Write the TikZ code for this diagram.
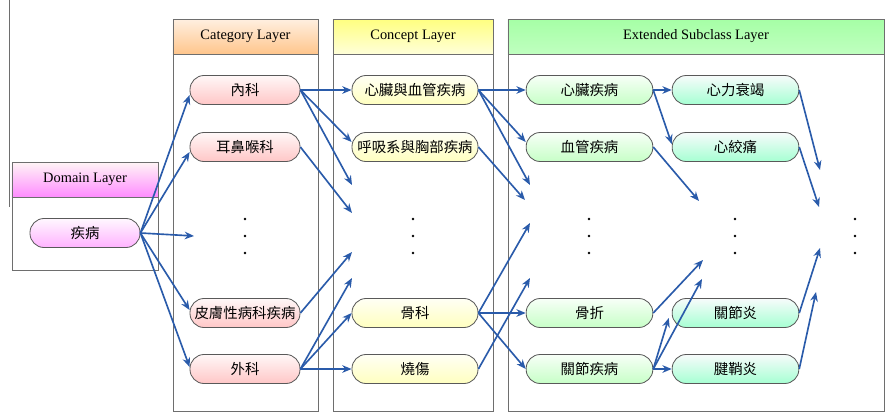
\documentclass[tikz,border=0pt]{standalone}
\usepackage{fontspec}
\setmainfont{Liberation Serif}
\newfontfamily\cjk{Noto Sans CJK TC}
\usepackage{xcolor}
\usepackage{tikz}
\usetikzlibrary{arrows.meta,calc}

\definecolor{linkblue}{HTML}{2A5BAA}
\definecolor{frame}{HTML}{6E6E6E}

\tikzset{
  box/.style={draw=frame, line width=0.8pt},
  hdr/.style={draw=frame, line width=0.8pt, minimum height=1.05cm, inner sep=0pt},
  item/.style={draw=black!65, line width=0.7pt, rounded corners=12pt,
    minimum height=0.87cm, inner xsep=1pt, inner ysep=0pt,
    font=\cjk\fontsize{12.3}{14}\selectfont},
  link/.style={draw=linkblue, line width=1.4pt, -{Stealth[length=8pt,width=6.5pt]}}
}

\begin{document}
\begin{tikzpicture}[x=0.03cm, y=-0.03cm, font=\fontsize{12.3}{14}\selectfont]
    \useasboundingbox (0,0) rectangle (885,413);
    %Values
    \def\ra{90}
    \def\rb{147}
    \def\rc{313}
    \def\rd{369}

    % Layers
    \draw[frame, line width=0.8pt] (9,0) -- (9,207);
    \draw[box] (12,162) rectangle (158,270);
    \node[hdr, top color=pink!15, bottom color=magenta!45, minimum width=4.38cm] (hdom) at (85,179.5) {Domain Layer};

    \draw[box] (173,19) rectangle (318,411);
    \node[hdr, top color=orange!12, bottom color=orange!45, minimum width=4.35cm] (hcat) at (245.5,36.5) {Category Layer};

    \draw[box] (333,19) rectangle (493,411);
    \node[hdr, top color=yellow!50, bottom color=yellow!15, minimum width=4.8cm] (hcon) at (413,36.5) {Concept Layer};

    \draw[box] (508,19) rectangle (884,411);
    \node[hdr, top color=green!35, middle color=green!6, bottom color=green!25, minimum width=11.28cm] (hext) at (696,36.5) {Extended Subclass Layer};

    % Nodes
    \node[item, top color=magenta!3, bottom color=magenta!30, minimum width=3.3cm] (dis) at (85,233) {疾病};

    \node[item, top color=red!3, bottom color=red!22, minimum width=3.3cm] (cat1) at (245,\ra) {內科};
    \node[item, top color=red!3, bottom color=red!22, minimum width=3.3cm] (cat2) at (245,\rb) {耳鼻喉科};
    \node[item, top color=red!3, bottom color=red!22, minimum width=3.3cm] (cat3) at (245,\rc) {皮膚性病科疾病};
    \node[item, top color=red!3, bottom color=red!22, minimum width=3.3cm] (cat4) at (245,\rd) {外科};

    \node[item, top color=yellow!4, bottom color=yellow!25, minimum width=3.78cm] (con1) at (415,\ra) {心臟與血管疾病};
    \node[item, top color=yellow!4, bottom color=yellow!25, minimum width=3.78cm] (con2) at (415,\rb) {呼吸系與胸部疾病};
    \node[item, top color=yellow!4, bottom color=yellow!25, minimum width=3.78cm] (con3) at (415,\rc) {骨科};
    \node[item, top color=yellow!4, bottom color=yellow!25, minimum width=3.78cm] (con4) at (415,\rd) {燒傷};

    \node[item, top color=green!3, bottom color=green!22, minimum width=3.8cm] (ext1) at (589.5,\ra) {心臟疾病};
    \node[item, top color=green!3, bottom color=green!22, minimum width=3.8cm] (ext2) at (589.5,\rb) {血管疾病};
    \node[item, top color=green!3, bottom color=green!22, minimum width=3.8cm] (ext3) at (589.5,\rc) {骨折};
    \node[item, top color=green!3, bottom color=green!22, minimum width=3.8cm] (ext4) at (589.5,\rd) {關節疾病};

    \node[item, top color=teal!3, bottom color=green!50!cyan!35, minimum width=3.8cm] (sub1) at (735.5,\ra) {心力衰竭};
    \node[item, top color=teal!3, bottom color=green!50!cyan!35, minimum width=3.8cm] (sub2) at (735.5,\rb) {心絞痛};
    \node[item, top color=teal!3, bottom color=green!50!cyan!35, minimum width=3.8cm] (sub3) at (735.5,\rc) {關節炎};
    \node[item, top color=teal!3, bottom color=green!50!cyan!35, minimum width=3.8cm] (sub4) at (735.5,\rd) {腱鞘炎};

    % Dots
    \fill (245,219) circle [radius=1.1pt] (245,236) circle [radius=1.1pt] (245,253) circle [radius=1.1pt];
    \fill (413,219) circle [radius=1.1pt] (413,236) circle [radius=1.1pt] (413,253) circle [radius=1.1pt];
    \fill (589,219) circle [radius=1.1pt] (589,236) circle [radius=1.1pt] (589,253) circle [radius=1.1pt];
    \fill (735,219) circle [radius=1.1pt] (735,236) circle [radius=1.1pt] (735,253) circle [radius=1.1pt];
    \fill (855,219) circle [radius=1.1pt] (855,236) circle [radius=1.1pt] (855,253) circle [radius=1.1pt];

    % Open ends
    \coordinate (dc) at (194,236);
    \coordinate (ca) at (352,185);
    \coordinate (cb) at (352,213);
    \coordinate (cc) at (352,252);
    \coordinate (cd) at (352,278);
    \coordinate (ea) at (530,185);
    \coordinate (eb) at (525,200);
    \coordinate (ec) at (530,223);
    \coordinate (ed) at (530,278);
    \coordinate (fa) at (699,201);
    \coordinate (fb) at (703,260);
    \coordinate (fc) at (702,279);
    \coordinate (ga) at (820,170);
    \coordinate (gb) at (819,207);
    \coordinate (gc) at (820,248);
    \coordinate (gd) at (816,292);

    % Links
    \draw[link] (dis.east) -- ($(cat1.west)+(0,5)$);
    \draw[link] (dis.east) -- ($(cat2.west)+(0,5)$);
    \draw[link] (dis.east) -- (dc);
    \draw[link] (dis.east) -- ($(cat3.west)+(0,-3)$);
    \draw[link] (dis.east) -- ($(cat4.west)+(0,-2)$);

    \draw[link] (cat1.east) -- (con1.west);
    \draw[link] (cat1.east) -- ($(con2.west)+(0,-5)$);
    \draw[link] (cat1.east) -- (ca);
    \draw[link] (cat2.east) -- (cb);
    \draw[link] (cat3.east) -- (cc);
    \draw[link] (cat4.east) -- (cd);
    \draw[link] (cat4.east) -- (con3.west);
    \draw[link] (cat4.east) -- (con4.west);

    \draw[link] (con1.east) -- (ext1.west);
    \draw[link] (con1.east) -- ($(ext2.west)+(0,-5)$);
    \draw[link] (con1.east) -- (ea);
    \draw[link] (con2.east) -- (eb);
    \draw[link] (con3.east) -- (ec);
    \draw[link] (con3.east) -- (ext3.west);
    \draw[link] (con3.east) -- (ext4.west);
    \draw[link] (con4.east) -- (ed);

    \draw[link] (ext1.east) -- (sub1.west);
    \draw[link] (ext1.east) -- ($(sub2.west)+(0,-3)$);
    \draw[link] (ext2.east) -- (fa);
    \draw[link] (ext3.east) -- (fb);
    \draw[link] (ext4.east) -- ($(sub3.west)+(-3,5)$);
    \draw[link] (ext4.east) -- (fc);
    \draw[link] (ext4.east) -- (sub4.west);

    \draw[link] (sub1.east) -- (ga);
    \draw[link] (sub2.east) -- (gb);
    \draw[link] (sub3.east) -- (gc);
    \draw[link] (sub4.east) -- (gd);
  \end{tikzpicture}
\end{document}
